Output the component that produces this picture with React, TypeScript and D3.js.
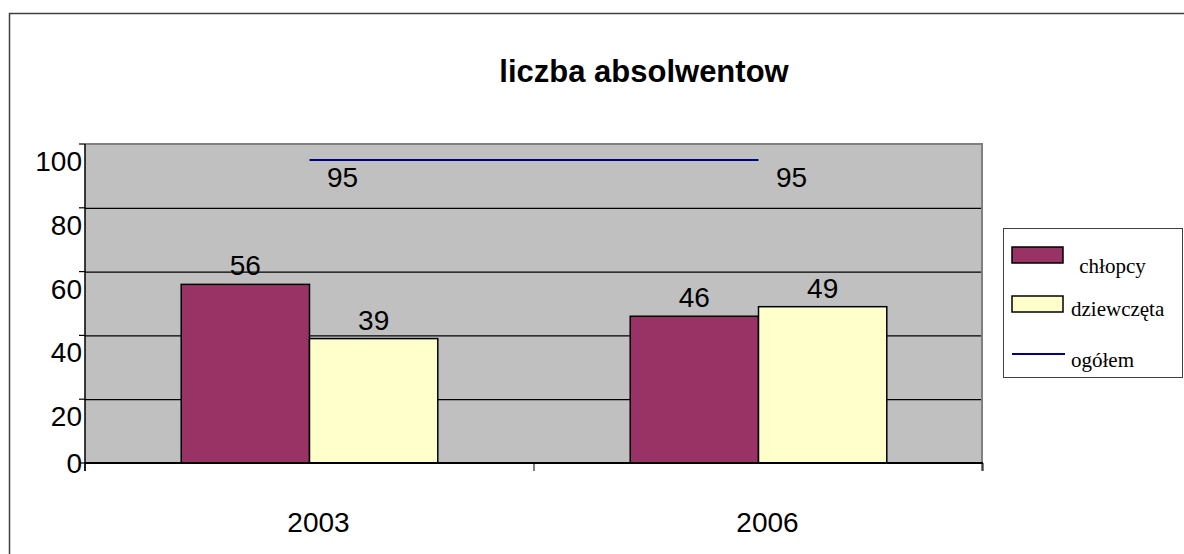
import React, { useRef, useEffect } from 'react';
import * as d3 from 'd3';

// data
const categories = ['2003', '2006'];
const seriesNames = ['chłopcy', 'dziewczęta'];
const chlopcy = [56, 46];
const dziewczeta = [39, 49];
const ogolem = [95, 95];
const yTicks = [0, 20, 40, 60, 80, 100];

const colors = ['#993366', '#FFFFCC'];
const lineColor = '#000080';

const App = () => {
    const svgRef = useRef<SVGSVGElement>(null);
    const width = 1184;
    const height = 554;
    const plot = { left: 85, right: 983, top: 144, bottom: 463 };

    useEffect(() => {
        const svg = d3.select(svgRef.current);
        svg.selectAll('*').remove();

        svg.append('rect').attr('width', width).attr('height', height).attr('fill', '#fff');
        // outer frame (runs off the right and bottom edges)
        svg.append('rect')
            .attr('x', 9.5).attr('y', 13.5)
            .attr('width', 1300).attr('height', 700)
            .attr('fill', 'none').attr('stroke', '#404040').attr('stroke-width', 1.5);

        svg.append('text')
            .attr('x', 644).attr('y', 82)
            .attr('text-anchor', 'middle')
            .attr('font-family', 'Liberation Sans, Arial, sans-serif')
            .attr('font-weight', 'bold')
            .attr('font-size', 31)
            .text('liczba absolwentow');

        const y = d3.scaleLinear().domain([0, 100]).range([plot.bottom, plot.top]);
        const x0 = d3.scaleBand().domain(categories).range([plot.left, plot.right]).padding(0);
        const bw = x0.bandwidth();
        // Excel style gap width 150%
        const barW = bw / 3.5;
        const x1 = d3.scaleBand().domain(seriesNames)
            .range([(bw - 2 * barW) / 2, (bw + 2 * barW) / 2]).padding(0);

        // plot area
        svg.append('rect')
            .attr('x', plot.left).attr('y', plot.top)
            .attr('width', plot.right - plot.left).attr('height', plot.bottom - plot.top)
            .attr('fill', '#C0C0C0');

        // gridlines
        svg.append('g').selectAll('line')
            .data(yTicks.filter(t => t > 0 && t < 100))
            .enter().append('line')
            .attr('x1', plot.left).attr('x2', plot.right - 1)
            .attr('y1', d => y(d) + 0.5).attr('y2', d => y(d) + 0.5)
            .attr('stroke', '#000').attr('stroke-width', 1.2);

        // plot border top / right
        svg.append('line')
            .attr('x1', plot.left).attr('x2', plot.right)
            .attr('y1', plot.top).attr('y2', plot.top)
            .attr('stroke', '#808080').attr('stroke-width', 2);
        svg.append('line')
            .attr('x1', plot.right - 1).attr('x2', plot.right - 1)
            .attr('y1', plot.top).attr('y2', plot.bottom + 8)
            .attr('stroke', '#808080').attr('stroke-width', 2);

        // bars
        const series = [chlopcy, dziewczeta];
        series.forEach((vals, si) => {
            svg.append('g').selectAll('rect')
                .data(vals)
                .enter().append('rect')
                .attr('x', (d, i) => (x0(categories[i]) as number) + (x1(seriesNames[si]) as number))
                .attr('y', d => y(d))
                .attr('width', x1.bandwidth())
                .attr('height', d => y(0) - y(d))
                .attr('fill', colors[si])
                .attr('stroke', '#000').attr('stroke-width', 1.5);
            svg.append('g').selectAll('text')
                .data(vals)
                .enter().append('text')
                .attr('x', (d, i) => (x0(categories[i]) as number) + (x1(seriesNames[si]) as number) + x1.bandwidth() / 2)
                .attr('y', d => y(d) - 9)
                .attr('text-anchor', 'middle')
                .attr('font-family', 'Liberation Sans, Arial, sans-serif')
                .attr('font-size', 28)
                .text(d => d);
        });

        // total line
        const cx = (c: string) => (x0(c) as number) + bw / 2;
        const line = d3.line<number>()
            .x((d, i) => cx(categories[i]))
            .y(d => y(d));
        svg.append('path')
            .datum(ogolem)
            .attr('d', line)
            .attr('fill', 'none')
            .attr('stroke', lineColor).attr('stroke-width', 2);
        svg.append('g').selectAll('text')
            .data(ogolem)
            .enter().append('text')
            .attr('x', (d, i) => cx(categories[i]) + 33)
            .attr('y', d => y(d) + 27)
            .attr('text-anchor', 'middle')
            .attr('font-family', 'Liberation Sans, Arial, sans-serif')
            .attr('font-size', 28)
            .text(d => d);

        // axes
        svg.append('line')
            .attr('x1', plot.left).attr('x2', plot.left)
            .attr('y1', plot.top).attr('y2', plot.bottom + 8)
            .attr('stroke', '#000').attr('stroke-width', 1.5);
        svg.append('line')
            .attr('x1', plot.left).attr('x2', plot.right)
            .attr('y1', plot.bottom).attr('y2', plot.bottom)
            .attr('stroke', '#000').attr('stroke-width', 2);

        // y ticks and labels
        svg.append('g').selectAll('line')
            .data(yTicks)
            .enter().append('line')
            .attr('x1', plot.left - 6).attr('x2', plot.left)
            .attr('y1', d => y(d)).attr('y2', d => y(d))
            .attr('stroke', '#000').attr('stroke-width', 1.2);
        svg.append('g').selectAll('text')
            .data(yTicks)
            .enter().append('text')
            .attr('x', plot.left - 3)
            .attr('y', d => Math.min(y(d) + 27, y(0) + 10))
            .attr('text-anchor', 'end')
            .attr('font-family', 'Liberation Sans, Arial, sans-serif')
            .attr('font-size', 28)
            .text(d => d);

        // x ticks and labels
        const xTickPos = [plot.left, ...categories.slice(1).map(c => x0(c) as number), plot.right];
        svg.append('g').selectAll('line')
            .data(xTickPos)
            .enter().append('line')
            .attr('x1', d => d).attr('x2', d => d)
            .attr('y1', plot.bottom).attr('y2', plot.bottom + 8)
            .attr('stroke', '#000').attr('stroke-width', 1);
        svg.append('g').selectAll('text')
            .data(categories)
            .enter().append('text')
            .attr('x', d => cx(d) + 9)
            .attr('y', 532)
            .attr('text-anchor', 'middle')
            .attr('font-family', 'Liberation Sans, Arial, sans-serif')
            .attr('font-size', 28)
            .text(d => d);

        // legend
        const lg = svg.append('g');
        lg.append('rect')
            .attr('x', 1003.5).attr('y', 228.5)
            .attr('width', 179).attr('height', 149)
            .attr('fill', '#fff').attr('stroke', '#404040').attr('stroke-width', 1);
        const legendItems = [
            { label: ' chłopcy', color: colors[0], y: 247, ty: 273, tx: 1074 },
            { label: 'dziewczęta', color: colors[1], y: 296, ty: 316, tx: 1071 },
        ];
        legendItems.forEach(it => {
            lg.append('rect')
                .attr('x', 1012).attr('y', it.y)
                .attr('width', 51).attr('height', 16)
                .attr('fill', it.color).attr('stroke', '#000').attr('stroke-width', 1.5);
            lg.append('text')
                .attr('x', it.tx).attr('y', it.ty)
                .attr('font-family', 'Liberation Serif, Times New Roman, serif')
                .attr('font-size', 21)
                .attr('xml:space', 'preserve')
                .style('white-space', 'pre')
                .text(it.label);
        });
        lg.append('line')
            .attr('x1', 1012).attr('x2', 1065)
            .attr('y1', 354).attr('y2', 354)
            .attr('stroke', lineColor).attr('stroke-width', 2);
        lg.append('text')
            .attr('x', 1071).attr('y', 367)
            .attr('font-family', 'Liberation Serif, Times New Roman, serif')
            .attr('font-size', 21)
            .text('ogółem');
    }, []);

    return (
        <svg ref={svgRef} width={width} height={height}
            style={{ position: 'absolute', left: 0, top: 0, display: 'block' }}>
        </svg>
    );
};

export default App;
